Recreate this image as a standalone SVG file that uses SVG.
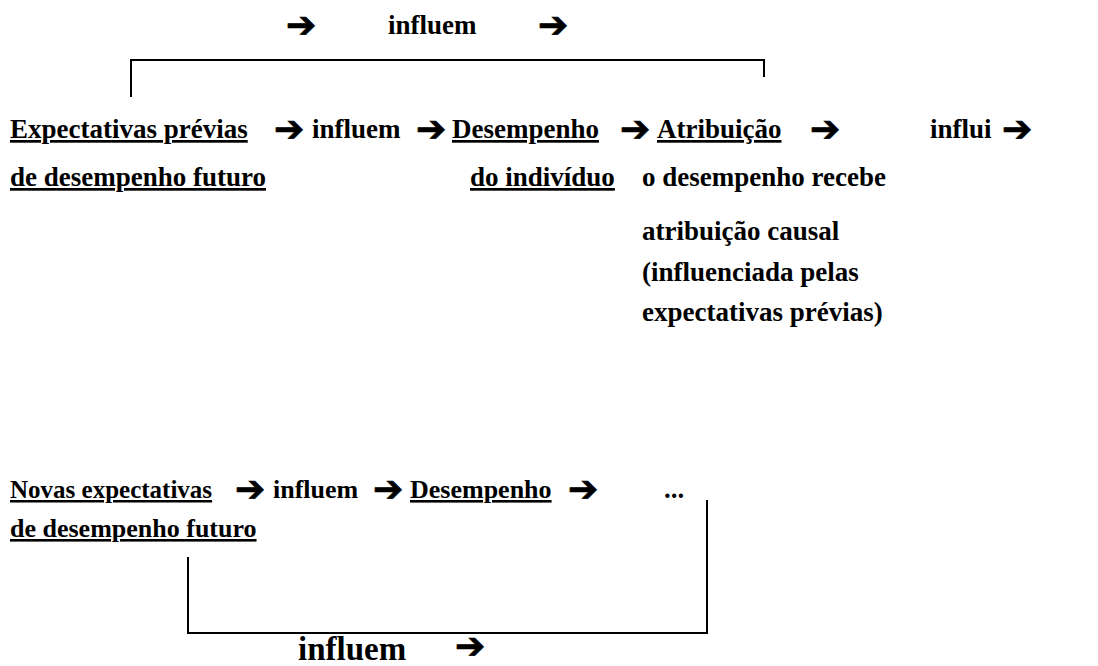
<svg xmlns="http://www.w3.org/2000/svg" width="1098" height="666" viewBox="0 0 1098 666">
<style>
text{font-family:"Liberation Serif","Times New Roman",serif;font-weight:bold;font-size:27px;fill:#000}
.u{text-decoration:underline}
.ar{font-family:"DejaVu Sans",sans-serif;font-size:36px;stroke:#000;stroke-width:0.8}
.big{font-size:33px}
.ln{fill:none;stroke:#000;stroke-width:2}
</style>
<rect width="1098" height="666" fill="#fff"/>
<g id="connectors">
<path class="ln" d="M131,97 V60 H764 V77"/>
<path class="ln" d="M188,557 V633 H707 V500"/>
</g>
<g id="top-label">
<text class="ar" x="286" y="37">➔</text>
<text x="388" y="34">influem</text>
<text class="ar" x="538" y="37">➔</text>
</g>
<g id="expectativas-previas">
<text class="u" x="10" y="138">Expectativas prévias</text>
<text class="u" x="10" y="186">de desempenho futuro</text>
</g>
<g id="row1-arrows">
<text class="ar" x="274" y="141">➔</text>
<text x="312" y="138">influem</text>
<text class="ar" x="416" y="141">➔</text>
<text class="ar" x="620" y="141">➔</text>
<text class="ar" x="810" y="141">➔</text>
<text x="930" y="138">influi</text>
<text class="ar" x="1002" y="141">➔</text>
</g>
<g id="desempenho">
<text class="u" x="452" y="138">Desempenho</text>
<text class="u" x="470" y="186">do indivíduo</text>
</g>
<g id="atribuicao">
<text class="u" x="657" y="138">Atribuição</text>
<text x="642" y="186">o desempenho recebe</text>
<text x="642" y="240">atribuição causal</text>
<text x="642" y="281">(influenciada pelas</text>
<text x="642" y="321">expectativas prévias)</text>
</g>
<g id="novas-expectativas">
<text class="u" x="10" y="498" style="font-size:25px">Novas expectativas</text>
<text class="u" x="10" y="537" style="font-size:26px">de desempenho futuro</text>
</g>
<g id="row2">
<text class="ar" x="235" y="501">➔</text>
<text x="273" y="498" style="font-size:26px">influem</text>
<text class="ar" x="373" y="501">➔</text>
<text class="u" x="410" y="498" style="font-size:26px">Desempenho</text>
<text class="ar" x="568" y="501">➔</text>
<text x="664" y="498">...</text>
</g>
<g id="bottom-label">
<text class="big" x="298" y="660">influem</text>
<text class="ar" x="455" y="658">➔</text>
</g>
</svg>
